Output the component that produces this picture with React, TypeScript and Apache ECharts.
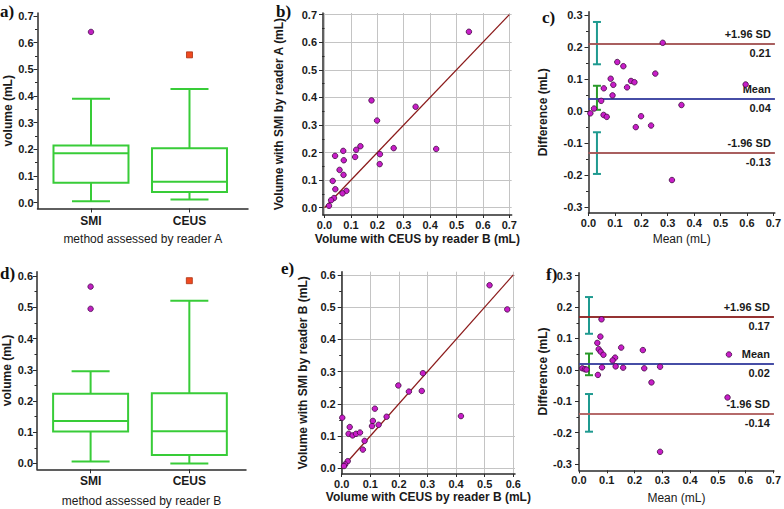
import React, { useEffect, useRef } from "react";
import * as echarts from "echarts";

// ---------- DATA ----------
const categories = ["SMI", "CEUS"];
const categoryPositions = [1, 2];
// box stats: [low whisker, Q1, median, Q3, high whisker]
const boxReaderA_SMI = [0.005, 0.074, 0.185, 0.214, 0.389];
const boxReaderA_CEUS = [0.011, 0.039, 0.078, 0.204, 0.426];
const outliersReaderA_SMI = [0.64];
const outliersReaderA_CEUS = [0.554];
const boxReaderB_SMI = [0.006, 0.102, 0.136, 0.223, 0.295];
const boxReaderB_CEUS = [0.0, 0.027, 0.103, 0.225, 0.521];
const outliersReaderB_SMI = [0.566, 0.495];
const outliersReaderB_CEUS = [0.585];

// panel b: [CEUS by reader B, SMI by reader A]
const pointsB: [number, number][] = [
  [0.547, 0.638], [0.178, 0.389], [0.345, 0.366], [0.199, 0.316], [0.423, 0.213],
  [0.262, 0.216], [0.136, 0.223], [0.12, 0.21], [0.116, 0.184], [0.071, 0.206],
  [0.04, 0.188], [0.073, 0.172], [0.21, 0.194], [0.209, 0.158], [0.057, 0.137],
  [0.072, 0.119], [0.031, 0.097], [0.041, 0.067], [0.083, 0.061], [0.068, 0.052],
  [0.036, 0.035], [0.025, 0.027], [0.017, 0.007],
];
// panel c: [mean, difference]
const pointsC: [number, number][] = [
  [0.281, 0.213], [0.109, 0.153], [0.132, 0.14], [0.253, 0.117], [0.084, 0.101],
  [0.161, 0.094], [0.174, 0.09], [0.094, 0.082], [0.146, 0.074], [0.058, 0.071],
  [0.595, 0.083], [0.091, 0.049], [0.048, 0.032], [0.021, 0.008], [0.007, -0.007],
  [0.057, -0.012], [0.069, -0.018], [0.199, -0.016], [0.352, 0.019], [0.179, -0.05],
  [0.237, -0.045], [0.316, -0.215],
];
const limitNames = ["+1.96 SD", "Mean", "-1.96 SD"];
const limitsC = [0.214, 0.042, -0.128];
const limitLabelsC = ["0.21", "0.04", "-0.13"];
const ciXC = 0.032;
const ciUpperC = [0.146, 0.278];
const ciMeanC = [0.004, 0.079];
const ciLowerC = [-0.196, -0.066];

// panel e: [CEUS by reader B, SMI by reader B]
const pointsE: [number, number][] = [
  [0.517, 0.568], [0.579, 0.493], [0.284, 0.295], [0.198, 0.257], [0.235, 0.238],
  [0.28, 0.24], [0.417, 0.162], [0.116, 0.185], [0.109, 0.147], [0.106, 0.131],
  [0.129, 0.135], [0.157, 0.16], [0.002, 0.157], [0.028, 0.128], [0.024, 0.107],
  [0.038, 0.102], [0.05, 0.107], [0.064, 0.111], [0.08, 0.085], [0.074, 0.058],
  [0.021, 0.022], [0.012, 0.012], [0.008, 0.007],
];
// panel f: [mean, difference]
const pointsF: [number, number][] = [
  [0.081, 0.161], [0.077, 0.106], [0.066, 0.086], [0.071, 0.066], [0.078, 0.058],
  [0.088, 0.048], [0.152, 0.071], [0.23, 0.063], [0.13, 0.039], [0.121, 0.03],
  [0.132, 0.011], [0.159, 0.007], [0.083, 0.008], [0.012, 0.005], [0.021, 0.002],
  [0.027, 0.001], [0.068, -0.016], [0.235, 0.005], [0.292, 0.01], [0.261, -0.04],
  [0.54, 0.049], [0.535, -0.088], [0.292, -0.261],
];
const limitsF = [0.172, 0.019, -0.138];
const limitLabelsF = ["0.17", "0.02", "-0.14"];
const ciXF = 0.036;
const ciUpperF = [0.115, 0.232];
const ciMeanF = [-0.017, 0.052];
const ciLowerF = [-0.197, -0.077];

const identityB = [0, 0.7];
const identityE = [0, 0.6];

const ticks07 = [0, 0.1, 0.2, 0.3, 0.4, 0.5, 0.6, 0.7];
const ticks06 = [0, 0.1, 0.2, 0.3, 0.4, 0.5, 0.6];
const ticksBA = [-0.3, -0.2, -0.1, 0, 0.1, 0.2, 0.3];
const minor07 = [0.05, 0.15, 0.25, 0.35, 0.45, 0.55, 0.65];
const minor06 = [0.05, 0.15, 0.25, 0.35, 0.45, 0.55];
const minorBA = [-0.25, -0.15, -0.05, 0.05, 0.15, 0.25];

// ---------- STYLE ----------
const FONT = "'Liberation Sans Narrow', 'Arial Narrow', 'Liberation Sans', Arial, sans-serif";
const SERIF = "'Liberation Serif', 'Times New Roman', serif";
const AXIS = "#2b2b2b";
const TEXT = "#1a1a1a";
const GREEN = "#38cc38";
const MAGENTA = "#c81ec8";
const TEAL = "#1f9a90";
const CI_GREEN = "#2a9a2a";

const fmt1 = (v: number) => v.toFixed(1);

function valueAxis(gridIndex: number, min: number, max: number, ticks: number[], cfg: any) {
  return {
    type: "value",
    gridIndex,
    min,
    max,
    position: cfg.position,
    name: cfg.name || "",
    nameLocation: "middle",
    nameGap: cfg.nameGap ?? 20,
    nameTextStyle: {
      fontFamily: FONT,
      fontSize: 12,
      fontWeight: cfg.nameBold ? "bold" : "normal",
      color: TEXT,
    },
    axisLine: { show: true, onZero: false, lineStyle: { color: AXIS, width: 1.5 } },
    axisTick: {
      show: true,
      customValues: ticks,
      length: cfg.tickLen ?? 4,
      inside: false,
      lineStyle: { color: AXIS, width: 1 },
    },
    axisLabel: {
      customValues: ticks,
      formatter: cfg.formatter || fmt1,
      margin: cfg.margin ?? 5,
      fontFamily: FONT,
      fontSize: cfg.fontSize ?? 11,
      fontWeight: "bold",
      color: TEXT,
    },
    splitLine: { show: !!cfg.grid, lineStyle: { color: "#c4c4c4", width: 1 } },
  };
}

function minorAxis(gridIndex: number, min: number, max: number, ticks: number[]) {
  return {
    type: "value",
    gridIndex,
    min,
    max,
    position: "left",
    axisLine: { show: false },
    axisTick: { show: true, customValues: ticks, length: 2.5, lineStyle: { color: AXIS, width: 1 } },
    axisLabel: { show: false },
    splitLine: { show: false },
  };
}

const boxRender = (params: any, api: any) => {
  const x = api.value(0);
  const c = (v: number) => api.coord([x, v]);
  const pLo = c(api.value(1));
  const pQ1 = c(api.value(2));
  const pMed = c(api.value(3));
  const pQ3 = c(api.value(4));
  const pHi = c(api.value(5));
  const cx = pLo[0];
  const hw = 37.5;
  const cw = 19;
  const st = { stroke: GREEN, lineWidth: 2, fill: "transparent" };
  return {
    type: "group",
    children: [
      { type: "rect", shape: { x: cx - hw, y: pQ3[1], width: hw * 2, height: pQ1[1] - pQ3[1] }, style: st },
      { type: "line", shape: { x1: cx - hw, y1: pMed[1], x2: cx + hw, y2: pMed[1] }, style: st },
      { type: "line", shape: { x1: cx, y1: pQ3[1], x2: cx, y2: pHi[1] }, style: st },
      { type: "line", shape: { x1: cx - cw, y1: pHi[1], x2: cx + cw, y2: pHi[1] }, style: st },
      { type: "line", shape: { x1: cx, y1: pQ1[1], x2: cx, y2: pLo[1] }, style: st },
      { type: "line", shape: { x1: cx - cw, y1: pLo[1], x2: cx + cw, y2: pLo[1] }, style: st },
    ],
  };
};

const errRender = (color: string) => (params: any, api: any) => {
  const x = api.value(0);
  const a = api.coord([x, api.value(1)]);
  const b = api.coord([x, api.value(2)]);
  const hw = 4;
  const st = { stroke: color, lineWidth: 2 };
  return {
    type: "group",
    children: [
      { type: "line", shape: { x1: a[0], y1: a[1], x2: b[0], y2: b[1] }, style: st },
      { type: "line", shape: { x1: a[0] - hw, y1: a[1], x2: a[0] + hw, y2: a[1] }, style: st },
      { type: "line", shape: { x1: b[0] - hw, y1: b[1], x2: b[0] + hw, y2: b[1] }, style: st },
    ],
  };
};

function boxSeries(idx: number, smi: number[], ceus: number[]) {
  return {
    type: "custom",
    xAxisIndex: idx,
    yAxisIndex: idx * 2,
    renderItem: boxRender,
    encode: { x: 0, y: [1, 2, 3, 4, 5] },
    data: [
      [categoryPositions[0], ...smi],
      [categoryPositions[1], ...ceus],
    ],
    z: 3,
  };
}

function outlierSeries(idx: number, smi: number[], ceus: number[]) {
  return [
    {
      type: "scatter",
      xAxisIndex: idx,
      yAxisIndex: idx * 2,
      symbol: "circle",
      symbolSize: 5.5,
      itemStyle: { color: "#c020c0", borderColor: "#4a1050", borderWidth: 0.8, opacity: 1 },
      data: smi.map((v) => [categoryPositions[0], v]),
    },
    {
      type: "scatter",
      xAxisIndex: idx,
      yAxisIndex: idx * 2,
      symbol: "rect",
      symbolSize: 6,
      itemStyle: { color: "#f04a20", borderColor: "#a83010", borderWidth: 0.8, opacity: 1 },
      data: ceus.map((v) => [categoryPositions[1], v]),
    },
  ];
}

function scatterSeries(idx: number, pts: [number, number][], extra: any = {}) {
  return {
    type: "scatter",
    xAxisIndex: idx,
    yAxisIndex: idx * 2,
    symbol: "circle",
    symbolSize: 5.5,
    itemStyle: { color: MAGENTA, borderColor: "#3d0a3d", borderWidth: 0.8, opacity: 1 },
    data: pts,
    z: 5,
    ...extra,
  };
}

function limitMarkLine(limits: number[], labels: string[], colors: string[]) {
  const data: any[] = [];
  limits.forEach((v, i) => {
    const ls = { color: colors[i], width: 1.6, type: "solid" };
    const lab = { fontFamily: FONT, fontSize: 11, fontWeight: "bold", color: TEXT, distance: 4 };
    data.push({ yAxis: v, lineStyle: ls, label: { ...lab, show: true, position: "insideEndTop", formatter: limitNames[i] } });
    data.push({ yAxis: v, lineStyle: ls, label: { ...lab, show: true, position: "insideEndBottom", formatter: labels[i] } });
  });
  return { symbol: ["none", "none"], silent: true, data };
}

function ciSeries(idx: number, x: number, ranges: number[][], color: string) {
  return {
    type: "custom",
    xAxisIndex: idx,
    yAxisIndex: idx * 2,
    renderItem: errRender(color),
    encode: { x: 0, y: [1, 2] },
    data: ranges.map((r) => [x, r[0], r[1]]),
    z: 4,
  };
}

function identitySeries(idx: number, ends: number[]) {
  return {
    type: "line",
    xAxisIndex: idx,
    yAxisIndex: idx * 2,
    showSymbol: false,
    lineStyle: { color: "#8b1a1a", width: 1.3 },
    data: ends.map((v) => [v, v]),
    z: 2,
  };
}

const catFormatter = (v: number) => categories[categoryPositions.indexOf(Math.round(v))] || "";

export default function App() {
  const ref = useRef<HTMLDivElement>(null);
  useEffect(() => {
    if (!ref.current) return;
    const chart = echarts.init(ref.current, undefined, { renderer: "svg" });

    const grids = [
      { left: 37.5, top: 13, width: 210.5, height: 195.5 },
      { left: 323, top: 13, width: 188.7, height: 202 },
      { left: 588.5, top: 11.7, width: 190.5, height: 201.3 },
      { left: 37, top: 271.7, width: 209, height: 197.6 },
      { left: 341.7, top: 271.7, width: 173.3, height: 202.3 },
      { left: 579, top: 272.7, width: 200, height: 197.6 },
    ];

    const xAxis = [
      valueAxis(0, 0.457, 2.594, categoryPositions, { position: "bottom", formatter: catFormatter, margin: 6, name: "method assessed by reader A", nameGap: 24, fontSize: 12 }),
      valueAxis(1, -0.0057, 0.709, ticks07, { position: "bottom", margin: 4, grid: true, name: "Volume with CEUS by reader B (mL)", nameGap: 18, nameBold: true, tickLen: 3 }),
      valueAxis(2, 0, 0.7056, ticks07, { position: "bottom", margin: 4, name: "Mean (mL)", nameGap: 20, tickLen: 3 }),
      valueAxis(3, 0.457, 2.574, categoryPositions, { position: "bottom", formatter: catFormatter, margin: 6, name: "method assessed by reader B", nameGap: 26, fontSize: 12 }),
      valueAxis(4, 0, 0.606, ticks06, { position: "bottom", margin: 4, grid: true, name: "Volume with CEUS by reader B (mL)", nameGap: 17, nameBold: true, tickLen: 3 }),
      valueAxis(5, 0, 0.7018, ticks07, { position: "bottom", margin: 4, name: "Mean (mL)", nameGap: 22, tickLen: 3 }),
    ];

    const yAxis = [
      valueAxis(0, -0.0225, 0.711, ticks07, { position: "left", margin: 4, name: "volume (mL)", nameGap: 24, nameBold: true }),
      minorAxis(0, -0.0225, 0.711, minor07),
      valueAxis(1, -0.0265, 0.706, ticks07, { position: "left", margin: 6, grid: true, name: "Volume with SMI by reader A (mL)", nameGap: 38, nameBold: true }),
      minorAxis(1, -0.0265, 0.706, minor07),
      valueAxis(2, -0.3178, 0.31, ticksBA, { position: "left", margin: 6, name: "Difference (mL)", nameGap: 40, nameBold: true }),
      minorAxis(2, -0.3178, 0.31, minorBA),
      valueAxis(3, -0.0186, 0.6138, ticks06, { position: "left", margin: 4, name: "volume (mL)", nameGap: 24, nameBold: true }),
      minorAxis(3, -0.0186, 0.6138, minor06),
      valueAxis(4, -0.0177, 0.61, ticks06, { position: "left", margin: 6, grid: true, name: "Volume with SMI by reader B (mL)", nameGap: 33, nameBold: true }),
      minorAxis(4, -0.0177, 0.61, minor06),
      valueAxis(5, -0.32, 0.3096, ticksBA, { position: "left", margin: 7, name: "Difference (mL)", nameGap: 30, nameBold: true }),
      minorAxis(5, -0.32, 0.3096, minorBA),
    ];

    const series: any[] = [
      boxSeries(0, boxReaderA_SMI, boxReaderA_CEUS),
      ...outlierSeries(0, outliersReaderA_SMI, outliersReaderA_CEUS),
      identitySeries(1, identityB),
      scatterSeries(1, pointsB),
      ciSeries(2, ciXC, [ciUpperC, ciLowerC], TEAL),
      ciSeries(2, ciXC, [ciMeanC], CI_GREEN),
      scatterSeries(2, pointsC, { markLine: limitMarkLine(limitsC, limitLabelsC, ["#a35555", "#3a42a0", "#a35555"]) }),
      boxSeries(3, boxReaderB_SMI, boxReaderB_CEUS),
      ...outlierSeries(3, outliersReaderB_SMI, outliersReaderB_CEUS),
      identitySeries(4, identityE),
      scatterSeries(4, pointsE),
      ciSeries(5, ciXF, [ciUpperF, ciLowerF], TEAL),
      ciSeries(5, ciXF, [ciMeanF], CI_GREEN),
      scatterSeries(5, pointsF, { markLine: limitMarkLine(limitsF, limitLabelsF, ["#8e2525", "#3a42a0", "#b06060"]) }),
    ];

    const panelLabel = (text: string, left: number, top: number) => ({
      type: "text",
      left,
      top,
      style: { text, fontFamily: SERIF, fontSize: 17, fontWeight: "bold", fill: "#111" },
    });

    chart.setOption({
      animation: false,
      backgroundColor: "#ffffff",
      textStyle: { fontFamily: FONT },
      grid: grids,
      xAxis,
      yAxis,
      series,
      graphic: [
        panelLabel("a)", 0, 3),
        panelLabel("b)", 276, 3),
        panelLabel("c)", 542, 9),
        panelLabel("d)", 0, 265),
        panelLabel("e)", 281, 260),
        panelLabel("f)", 546, 266),
      ],
    });
    return () => chart.dispose();
  }, []);

  return (
    <div
      ref={ref}
      style={{ position: "absolute", left: 0, top: 0, width: 784, height: 509, background: "#fff" }}
    />
  );
}
